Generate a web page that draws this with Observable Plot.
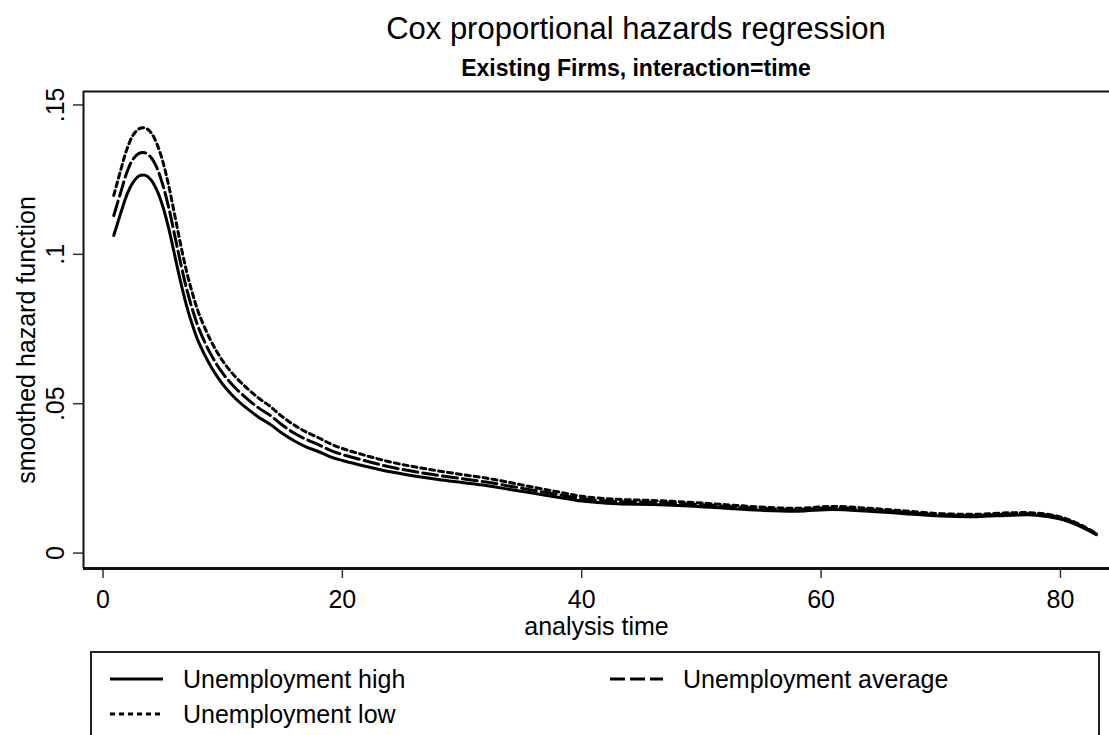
<!DOCTYPE html>
<html><head><meta charset="utf-8">
<script src="https://cdn.jsdelivr.net/npm/d3@7"></script>
<script src="https://cdn.jsdelivr.net/npm/@observablehq/plot@0.6"></script>
<style>
html,body{margin:0;padding:0;background:#fff;}
body{width:1109px;height:735px;overflow:hidden;position:relative;font-family:"Liberation Sans",Arial,sans-serif;color:#000;}
.t{position:absolute;left:0;width:1272px;text-align:center;line-height:1;white-space:nowrap;}
#title{top:13px;font-size:31px;}
#subtitle{top:57px;font-size:23px;font-weight:bold;}
#chart{position:absolute;left:0;top:85px;}
#legend{position:absolute;left:90px;top:651px;width:1010px;height:120px;border:2px solid #222;box-sizing:border-box;}
.item{position:absolute;display:flex;align-items:center;font-size:25px;white-space:nowrap;}
.item svg{margin-right:20px;}
</style></head>
<body>
<div id="title" class="t">Cox proportional hazards regression</div>
<div id="subtitle" class="t">Existing Firms, interaction=time</div>
<div id="chart"></div>
<div id="legend"></div>
<script>
const time = [0.9,1.5,2,2.5,3,3.5,4,4.5,5,5.5,6,6.5,7,7.5,8,9,10,11,12,13,14,15,16,17,18,19,20,22,24,26,28,30,32,34,36,38,40,43,46,49,52,55,58,61,64,67,70,73,76,78,80,81.5,83];
const unempHigh = [0.1063,0.114,0.120,0.1240,0.1262,0.1265,0.1250,0.1215,0.1160,0.1085,0.0995,0.0905,0.0825,0.0760,0.0705,0.0625,0.0565,0.0520,0.0485,0.0455,0.0430,0.0400,0.0375,0.0355,0.0340,0.0322,0.0310,0.0290,0.0272,0.0258,0.0246,0.0236,0.0226,0.0213,0.0200,0.0187,0.0174,0.0165,0.0163,0.0158,0.0150,0.0143,0.0140,0.0146,0.0140,0.0132,0.0124,0.0122,0.0127,0.0127,0.0114,0.0092,0.0062];
const unempAverage = [0.1130,0.1210,0.1275,0.1318,0.1338,0.1340,0.1325,0.1290,0.1232,0.1155,0.1062,0.0968,0.0882,0.0812,0.0752,0.0666,0.0602,0.0555,0.0518,0.0486,0.0460,0.0428,0.0401,0.0380,0.0363,0.0344,0.0330,0.0308,0.0288,0.0273,0.0260,0.0249,0.0238,0.0224,0.0210,0.0196,0.0182,0.0172,0.0170,0.0164,0.0156,0.0149,0.0145,0.0151,0.0145,0.0137,0.0128,0.0126,0.0131,0.0131,0.0118,0.0095,0.0064];
const unempLow = [0.1197,0.1285,0.1352,0.1398,0.1420,0.1423,0.1408,0.1370,0.1310,0.1228,0.1130,0.1030,0.0940,0.0866,0.0803,0.0712,0.0643,0.0593,0.0553,0.0519,0.0490,0.0456,0.0428,0.0405,0.0386,0.0366,0.0350,0.0326,0.0305,0.0289,0.0275,0.0263,0.0251,0.0236,0.0220,0.0205,0.0190,0.0180,0.0176,0.0170,0.0162,0.0154,0.0150,0.0156,0.0150,0.0141,0.0132,0.0130,0.0135,0.0134,0.0121,0.0098,0.0066];
const seriesNames = ["Unemployment high","Unemployment average","Unemployment low"];
const seriesDash = ["none","15,5","5,4"];
const xTicks = [0,20,40,60,80];
const yTicks = [0,0.05,0.1,0.15];
const yTickLabels = ["0",".05",".1",".15"];
const xLabel = "analysis time";
const yLabel = "smoothed hazard function";

const xDomain = [-1.63, 84.1];
const yDomain = [-0.00516, 0.1545];
const seriesValues = [unempHigh, unempAverage, unempLow];
const rows = seriesValues.map(vals => time.map((t,i) => ({t, v: vals[i]})));

const plot = Plot.plot({
  width: 1109, height: 563,
  marginTop: 6, marginLeft: 83, marginRight: 0, marginBottom: 80,
  style: {fontSize: "25px", fontFamily: "'Liberation Sans', Arial, sans-serif", background: "#fff", color: "#000", overflow: "visible"},
  x: {domain: xDomain},
  y: {domain: yDomain},
  marks: [
    Plot.axisX({ticks: xTicks, tickSize: 10, tickPadding: 11.5, label: null, stroke: "#333", strokeWidth: 1.5, fill: "#000"}),
    Plot.axisY({ticks: yTicks, tickFormat: d => yTickLabels[yTicks.indexOf(d)], tickRotate: -90, tickSize: 10, tickPadding: 10, label: null, stroke: "#333", strokeWidth: 1.5, fill: "#000"}),
    Plot.ruleY([yDomain[1]], {stroke: "#111", strokeWidth: 2}),
    Plot.ruleY([yDomain[0]], {stroke: "#111", strokeWidth: 3}),
    Plot.ruleX([xDomain[0]], {stroke: "#111", strokeWidth: 2}),
    ...rows.map((r, i) => Plot.line(r, {x: "t", y: "v", stroke: "#000", strokeWidth: 3, strokeDasharray: seriesDash[i], curve: "catmull-rom"})),
    Plot.text([xLabel], {frameAnchor: "bottom", dy: 66, lineAnchor: "bottom", textAnchor: "middle", text: d => d, fill: "#000"}),
    Plot.text([yLabel], {frameAnchor: "left", dx: -49, dy: 10, lineAnchor: "bottom", textAnchor: "middle", rotate: -90, text: d => d, fill: "#000"})
  ]
});
document.getElementById("chart").appendChild(plot);

// legend
const legend = document.getElementById("legend");
const pos = [{left: 18, top: 10}, {left: 518, top: 10}, {left: 18, top: 45}];
const order = [0, 1, 2];
order.forEach((s, k) => {
  const div = document.createElement("div");
  div.className = "item";
  div.style.left = pos[k].left + "px";
  div.style.top = pos[k].top + "px";
  div.style.height = "32px";
  div.innerHTML = `<svg width="53" height="10"><line x1="0" x2="53" y1="5" y2="5" stroke="#000" stroke-width="3" stroke-dasharray="${seriesDash[s]}"/></svg><span>${seriesNames[s]}</span>`;
  legend.appendChild(div);
});
</script>
</body></html>
